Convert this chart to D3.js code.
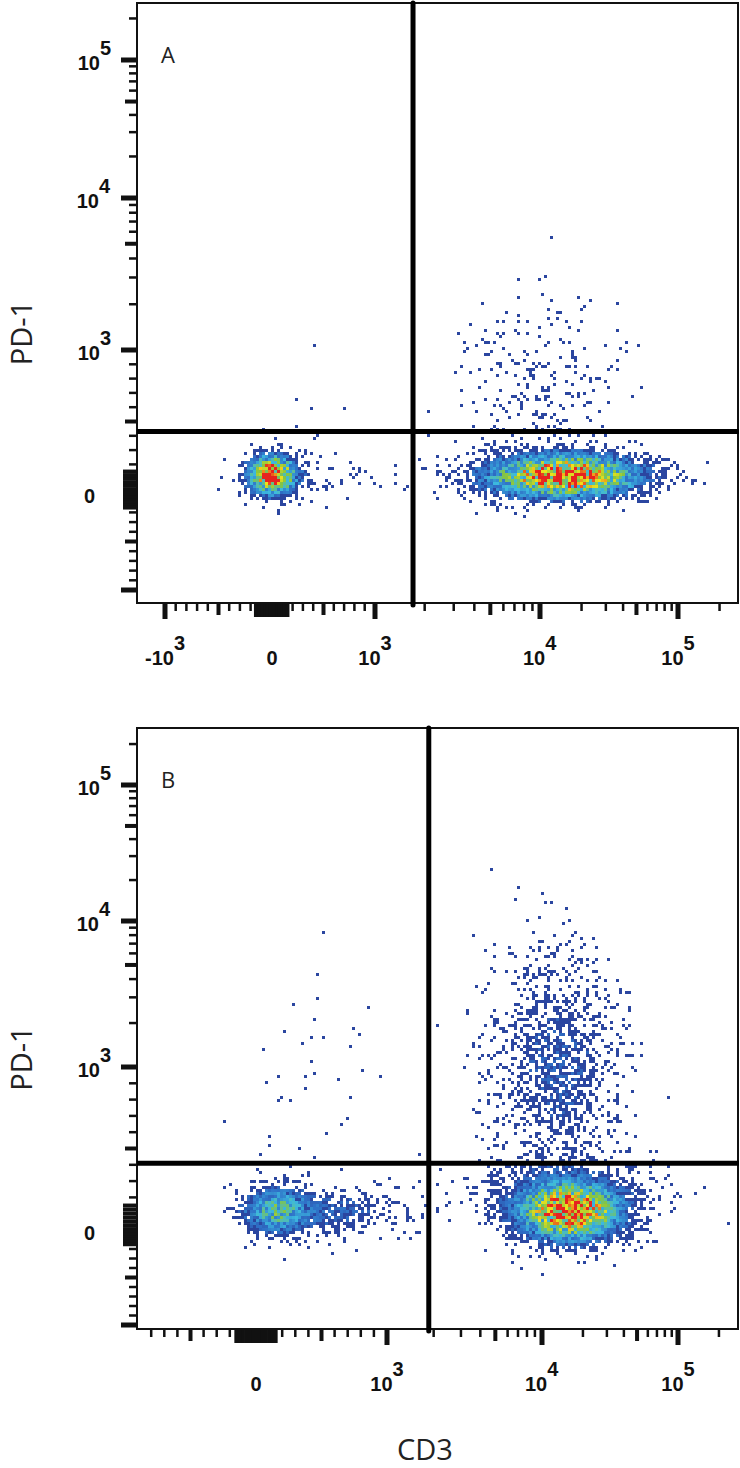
<!DOCTYPE html>
<html><head><meta charset="utf-8">
<script src="https://cdn.jsdelivr.net/npm/d3@7"></script>
<style>body{margin:0;background:#fff}svg{display:block}</style>
</head><body>
<svg id="chart" width="740" height="1468"></svg>
<script>
// populations per panel: centre in channel values, spread in display decades, event count
var popsA = [
  {x: 0,     y: 126, sx: 0.13, sy: 0.09, n: 1000},
  {x: 350,   y: 110, sx: 0.35, sy: 0.10, n: 150},
  {x: 3000,  y: 110, sx: 0.30, sy: 0.07, n: 50},
  {x: 15000, y: 120, sx: 0.30, sy: 0.10, n: 3600},
  {x: 10000, y: 750, sx: 0.28, sy: 0.33, n: 460},
  {x: 200,   y: 500, sx: 0.20, sy: 0.25, n: 18}
];
var popsB = [
  {x: 150,   y: 120, sx: 0.15, sy: 0.10, n: 800},
  {x: 600,   y: 110, sx: 0.30, sy: 0.10, n: 500},
  {x: 400,   y: 900, sx: 0.30, sy: 0.40, n: 60},
  {x: 16000, y: 110, sx: 0.20, sy: 0.12, n: 3200},
  {x: 14000, y: 200, sx: 0.35, sy: 0.15, n: 1000},
  {x: 13000, y: 1000, sx: 0.25, sy: 0.40, n: 1800}
];
var gatesA = {x: 1700, y: 430};
var gatesB = {x: 1860, y: 410};
var xLabelsA = [-1000, 0, 1000, 10000, 100000];
var xLabelsB = [0, 1000, 10000, 100000];
var yLabels = [0, 1000, 10000, 100000];
var panelNames = ["A", "B"];

var svg = d3.select("#chart");
var font = "'Liberation Sans',Arial,sans-serif";

// biexponential-ish display transform: linear within +-1000, log decades beyond
function gf(v) {
  var a = Math.abs(v);
  if (a <= 1000) return v / 1000;
  return Math.sign(v) * (1 + Math.log10(a / 1000));
}
function makeScale(px) {
  var lin = d3.scaleLinear().domain([-1, 0, 1, 2, 3]).range(px);
  var s = function(v) { return lin(gf(v)); };
  s.lin = lin;
  return s;
}
// integer hash for dithering the raster
function hash(i, j, s) {
  var n = (i * 374761393 + j * 668265263 + s * 2246822519) | 0;
  n = Math.imul(n ^ (n >>> 13), 1274126177);
  n = n ^ (n >>> 16);
  return (n >>> 0) / 4294967296;
}

// tick list: [value, kind] kind 0 minor 1 mid 2 major, 3 zero block
function tickList() {
  var t = [];
  [-1, 1].forEach(function(sg) {
    for (var k = 2; k <= 9; k++) t.push([sg * k * 100, k == 5 ? 1 : 0]);
    [25, 50, 75, 100, 125, 150].forEach(function(v) { t.push([sg * v, 3]); });
  });
  t.push([0, 3]);
  t.push([-1000, 2]); t.push([1000, 2]);
  [1000, 10000].forEach(function(d) {
    for (var k = 2; k <= 9; k++) t.push([k * d, k == 5 ? 1 : 0]);
  });
  t.push([10000, 2]); t.push([100000, 2]); t.push([200000, 0]);
  return t;
}
var tickLen = [7, 11, 15, 13], tickW = [2.5, 4, 5, 4];

var colorScale = d3.scaleLinear()
  .domain([0, 0.15, 0.32, 0.52, 0.72, 0.9])
  .range(["#2b46a0", "#2f72c8", "#3cb9df", "#86c440", "#f2e31a", "#e6231f"])
  .clamp(true);

function drawPanel(p, seed) {
  var g = svg.append("g");
  var L = 137, R = 738, T = p.top, B = p.bottom;
  var x = makeScale(p.xPx), y = makeScale(p.yPx);

  // density raster on 3px bins
  var bin = 3, cells = [], maxL = 0;
  var pops = p.pops.map(function(d) {
    var cx = x(d.x), cy = y(d.y), gx = gf(d.x), gy = gf(d.y);
    var sxp = Math.abs(x.lin(gx + 0.5) - x.lin(gx - 0.5)) * d.sx;
    var syp = Math.abs(y.lin(gy + 0.5) - y.lin(gy - 0.5)) * d.sy;
    return {cx: cx, cy: cy, sx: sxp, sy: syp, k: d.n * bin * bin / (2 * Math.PI * sxp * syp)};
  });
  for (var i = 0; L + 2 + i * bin < R - 2; i++) {
    for (var j = 0; T + 2 + j * bin < B - 2; j++) {
      var px = L + 2 + i * bin + bin / 2, py = T + 2 + j * bin + bin / 2, lam = 0;
      pops.forEach(function(q) {
        var dx = (px - q.cx) / q.sx, dy = (py - q.cy) / q.sy;
        lam += q.k * Math.exp(-0.5 * (dx * dx + dy * dy));
      });
      var t = hash(i, j, seed), t2 = hash(j, i, seed + 7);
      if (lam > t * 1.6) {
        cells.push({x: px - bin / 2, y: py - bin / 2, l: lam * (0.45 + 1.1 * t2)});
        maxL = Math.max(maxL, lam);
      }
    }
  }
  g.append("g").selectAll("rect").data(cells).join("rect")
    .attr("x", function(d) { return d.x; })
    .attr("y", function(d) { return d.y; })
    .attr("width", bin).attr("height", bin)
    .attr("fill", function(d) { return d.l < 1.2 ? "#2b46a0" : colorScale(d.l / (maxL * 1.1)); });

  // frame
  g.append("rect").attr("x", L).attr("y", T).attr("width", R - L).attr("height", B - T)
    .attr("fill", "none").attr("stroke", "#111").attr("stroke-width", 2);

  // ticks
  var ticks = tickList();
  g.append("g").selectAll("rect").data(ticks.filter(function(d) {
      var v = x(d[0]); return v > L + 2 && v < R - 2; })).join("rect")
    .attr("x", function(d) { return x(d[0]) - tickW[d[1]] / 2; })
    .attr("y", B + 1).attr("width", function(d) { return tickW[d[1]]; })
    .attr("height", function(d) { return tickLen[d[1]]; }).attr("fill", "#111");
  g.append("g").selectAll("rect").data(ticks.filter(function(d) {
      var v = y(d[0]); return v > T + 2 && v < B - 2; })).join("rect")
    .attr("y", function(d) { return y(d[0]) - tickW[d[1]] / 2; })
    .attr("x", function(d) { return L - 1 - tickLen[d[1]]; })
    .attr("height", function(d) { return tickW[d[1]]; })
    .attr("width", function(d) { return tickLen[d[1]]; }).attr("fill", "#111");

  function label(sel, v) {
    if (v == 0) { sel.text("0"); return; }
    sel.append("tspan").text(v < 0 ? "-10" : "10");
    sel.append("tspan").attr("dy", -15).attr("font-size", 20)
      .text(String(Math.round(Math.log10(Math.abs(v)))));
  }
  p.xLabels.forEach(function(v) {
    var t = g.append("text").attr("y", B + 62)
      .attr("font-family", font).attr("font-weight", "bold").attr("font-size", 20).attr("fill", "#111");
    label(t, v);
    var w = t.node().getBBox().width;
    t.attr("x", x(v) - w / 2);
  });
  yLabels.forEach(function(v) {
    var t = g.append("text").attr("y", y(v) + 10)
      .attr("font-family", font).attr("font-weight", "bold").attr("font-size", 20).attr("fill", "#111");
    label(t, v);
    var w = t.node().getBBox().width;
    t.attr("x", (v == 0 ? 95 : 111) - w);
  });

  // gates
  g.append("line").attr("x1", x(p.gates.x)).attr("x2", x(p.gates.x)).attr("y1", T).attr("y2", B + 2)
    .attr("stroke", "#000").attr("stroke-width", 5).attr("stroke-linecap", "round");
  g.append("line").attr("x1", L).attr("x2", R + 1).attr("y1", y(p.gates.y)).attr("y2", y(p.gates.y))
    .attr("stroke", "#000").attr("stroke-width", 5);

  g.append("text").attr("x", 161).attr("y", T + 60).text(p.name)
    .attr("font-family", "'Open Sans',sans-serif").attr("font-size", 22).attr("fill", "#222");
  g.append("text").attr("transform", "translate(32," + ((T + B) / 2 + 30) + ") rotate(-90)")
    .attr("text-anchor", "middle").text("PD-1")
    .attr("font-family", "'Open Sans',sans-serif").attr("font-size", 29).attr("fill", "#222");
}

drawPanel({name: panelNames[0], top: 3, bottom: 603, pops: popsA, gates: gatesA, xLabels: xLabelsA,
  xPx: [165, 272, 375, 540, 678], yPx: [590, 493, 350, 198, 60]}, 1);
drawPanel({name: panelNames[1], top: 728, bottom: 1329, pops: popsB, gates: gatesB, xLabels: xLabelsB,
  xPx: [125, 256, 387, 542, 678], yPx: [1325, 1230, 1067, 921, 785]}, 2);

svg.append("text").attr("x", 425).attr("y", 1460).attr("text-anchor", "middle").text("CD3")
  .attr("font-family", "'Open Sans',sans-serif").attr("font-size", 29).attr("fill", "#222");
</script>
</body></html>
